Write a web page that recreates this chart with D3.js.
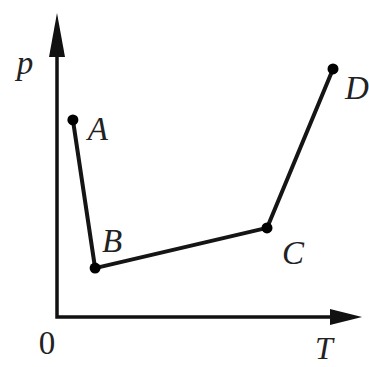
<!DOCTYPE html>
<html>
<head>
<meta charset="utf-8">
<script src="https://cdn.jsdelivr.net/npm/d3@7"></script>
<style>
  body { margin: 0; background: #fff; }
  text { font-family: "Liberation Serif", serif; font-style: italic; fill: #222; }
</style>
</head>
<body>
<div id="chart"></div>
<script>
let width = 369
let height = 367

// state points of the p-T diagram (arbitrary units)
let labels = ['A', 'B', 'C', 'D']
let tValues = [0.53, 1.27, 7.0, 9.2]
let pValues = [6.57, 1.63, 2.97, 8.27]

let xScale = d3.scaleLinear().domain([0, 10]).range([57, 357])
let yScale = d3.scaleLinear().domain([0, 10]).range([317, 17])

let points = labels.map((d, i) => ({ label: d, t: tValues[i], p: pValues[i] }))

let svg = d3.select('#chart')
  .append('svg')
  .attr('width', width)
  .attr('height', height)

// axes
let x0 = xScale(0)
let y0 = yScale(0)

svg.append('path')
  .attr('d', `M${x0},${yScale(9.6)} L${x0},${y0} L${xScale(9.3)},${y0}`)
  .attr('fill', 'none')
  .attr('stroke', '#111')
  .attr('stroke-width', 3.5)

// arrow heads
svg.append('path')
  .attr('d', `M${x0},${yScale(10.13)} L${x0 - 8},${yScale(8.67)} L${x0 + 8},${yScale(8.67)} Z`)
  .attr('fill', '#111')

svg.append('path')
  .attr('d', `M${xScale(10.17)},${y0} L${xScale(9.1)},${y0 - 8} L${xScale(9.1)},${y0 + 8} Z`)
  .attr('fill', '#111')

// the process line
let line = d3.line()
  .x(d => xScale(d.t))
  .y(d => yScale(d.p))

svg.append('path')
  .datum(points)
  .attr('d', line)
  .attr('fill', 'none')
  .attr('stroke', '#151515')
  .attr('stroke-width', 4)
  .attr('stroke-linejoin', 'round')

svg.selectAll('.pt')
  .data(points)
  .enter()
  .append('circle')
  .attr('class', 'pt')
  .attr('cx', d => xScale(d.t))
  .attr('cy', d => yScale(d.p))
  .attr('r', 5.5)
  .attr('fill', '#000')

// point labels
let offsets = { A: [25, 20], B: [17, -16], C: [26, 36], D: [24, 30] }

svg.selectAll('.lbl')
  .data(points)
  .enter()
  .append('text')
  .attr('class', 'lbl')
  .attr('x', d => xScale(d.t) + offsets[d.label][0])
  .attr('y', d => yScale(d.p) + offsets[d.label][1])
  .attr('text-anchor', 'middle')
  .attr('font-size', 33)
  .text(d => d.label)

// axis titles
svg.append('text').attr('x', 25).attr('y', 74).attr('text-anchor', 'middle')
  .attr('font-size', 33).text('p')
svg.append('text').attr('x', 324).attr('y', 359).attr('text-anchor', 'middle')
  .attr('font-size', 32).text('T')
svg.append('text').attr('x', 47).attr('y', 354).attr('text-anchor', 'middle')
  .attr('font-size', 33).style('font-style', 'normal').text('0')
</script>
</body>
</html>
